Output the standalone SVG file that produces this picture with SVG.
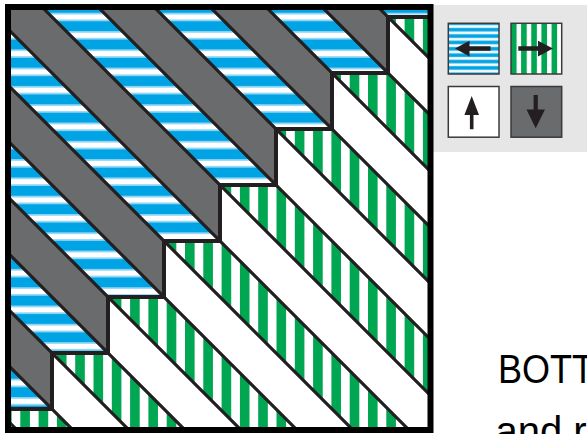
<svg xmlns="http://www.w3.org/2000/svg" width="587" height="434" viewBox="0 0 587 434">
<defs>
<style>
.ln{fill:none;stroke:#231f20;stroke-width:3.2}
.st{fill:none;stroke:#231f20;stroke-width:4;stroke-linejoin:miter}
.sq{stroke:#3a3a3a;stroke-width:1.5}
.arr{fill:#231f20}
.txt{font-family:"Liberation Sans",Arial,sans-serif;font-size:40px;fill:#000}
</style>
<pattern id="blueH" patternUnits="userSpaceOnUse" x="0" y="7.85" width="40" height="18.3">
<rect width="40" height="18.3" fill="#00a3e3"/>
<rect y="4.9" width="40" height="8.5" fill="#8fd5f4"/>
<rect y="6.6" width="40" height="5.1" fill="#fff"/>
</pattern>
<pattern id="greenV" patternUnits="userSpaceOnUse" x="2" y="0" width="18.3" height="40">
<rect width="18.3" height="40" fill="#fff"/>
<rect width="9.6" height="40" fill="#00a652"/>
</pattern>
<pattern id="blueL" patternUnits="userSpaceOnUse" x="0" y="23.3" width="60" height="6.375">
<rect width="60" height="6.375" fill="#00a3e3"/>
<rect y="1.6" width="60" height="3.2" fill="#9bd9f5"/>
<rect y="2.2" width="60" height="2" fill="#fff"/>
</pattern>
<pattern id="greenL" patternUnits="userSpaceOnUse" x="511" y="0" width="10.14" height="60">
<rect width="10.14" height="60" fill="#fff"/>
<rect width="5.6" height="60" fill="#00a652"/>
</pattern>
<clipPath id="frameClip"><rect x="8" y="7" width="422.5" height="423"/></clipPath>
<clipPath id="upClip"><path d="M0,0H470V17H388V73H332V129H276V185H220V241H164V297H108V353H52V409H0Z"/></clipPath>
<clipPath id="lowClip"><path d="M470,17H388V73H332V129H276V185H220V241H164V297H108V353H52V409H0V440H470Z"/></clipPath>
<path id="bands" d="M-50,-477L500,73L500,129L-50,-421Z M-50,-365L500,185L500,241L-50,-309Z M-50,-253L500,297L500,353L-50,-197Z M-50,-141L500,409L500,465L-50,-85Z M-50,-29L500,521L500,577L-50,27Z M-50,83L500,633L500,689L-50,139Z M-50,195L500,745L500,801L-50,251Z M-50,307L500,857L500,913L-50,363Z"/>
</defs>
<rect width="587" height="434" fill="#fff"/>
<g id="legend-panel"><rect x="433" y="5" width="154" height="147" fill="#e6e6e6"/></g>
<g id="main" clip-path="url(#frameClip)">
<g id="upper" clip-path="url(#upClip)">
<rect x="0" y="0" width="470" height="440" fill="#6a6b6d"/>
<use href="#bands" fill="url(#blueH)"/>
</g>
<g id="lower" clip-path="url(#lowClip)">
<rect x="0" y="0" width="470" height="440" fill="#fff"/>
<use href="#bands" fill="url(#greenV)"/>
</g>
<g id="lines">
<path class="ln" d="M-50,-477L500,73M-50,-421L500,129M-50,-365L500,185M-50,-309L500,241M-50,-253L500,297M-50,-197L500,353M-50,-141L500,409M-50,-85L500,465M-50,-29L500,521M-50,27L500,577M-50,83L500,633M-50,139L500,689M-50,195L500,745M-50,251L500,801M-50,307L500,857M-50,363L500,913"/>
<path class="st" d="M470,17H388V73H332V129H276V185H220V241H164V297H108V353H52V409H0"/>
</g>
</g>
<g id="frame"><rect x="8" y="7" width="422.5" height="423" fill="none" stroke="#000" stroke-width="6"/></g>
<g id="legend-left">
<rect class="sq" x="448.3" y="23.3" width="50.7" height="50.7" fill="url(#blueL)"/>
<polygon class="arr" points="455,48.5 469.5,40.7 469.5,46.3 490.5,46.3 490.5,50.7 469.5,50.7 469.5,56.5"/>
</g>
<g id="legend-right">
<rect class="sq" x="511" y="23.3" width="50.7" height="50.7" fill="url(#greenL)"/>
<polygon class="arr" points="518.3,46.3 538,46.3 538,40.7 553,48.5 538,56.5 538,50.7 518.3,50.7"/>
</g>
<g id="legend-up">
<rect class="sq" x="448.3" y="86.5" width="50.7" height="50.7" fill="#fff"/>
<polygon class="arr" points="471.7,96 479,115 473.5,115 473.5,129.3 469.9,129.3 469.9,115 464.4,115"/>
</g>
<g id="legend-down">
<rect class="sq" x="511" y="86.5" width="50.7" height="50.7" fill="#6a6b6d"/>
<polygon class="arr" points="533.6,95 537.8,95 537.8,109.5 545,109.5 535.7,128.3 526.5,109.5 533.6,109.5"/>
</g>
<g id="caption">
<text class="txt" x="498" y="383" textLength="96" lengthAdjust="spacingAndGlyphs">BOTT</text>
<text class="txt" x="495.5" y="445">and r</text>
</g>
</svg>
